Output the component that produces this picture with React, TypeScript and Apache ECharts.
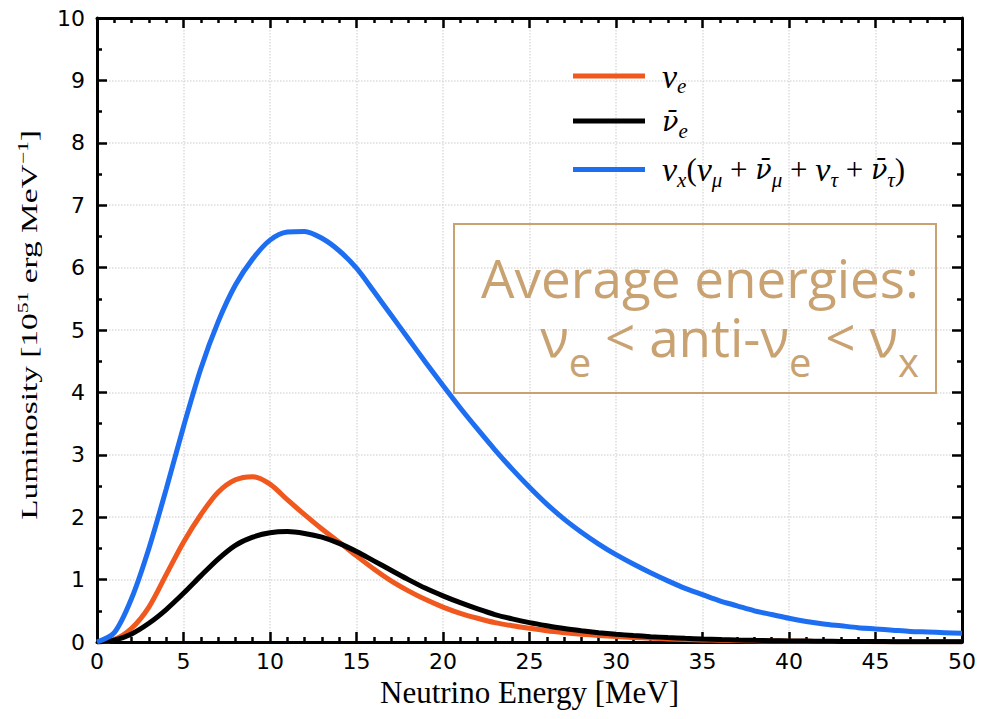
import { useEffect, useRef } from 'react';
import * as echarts from 'echarts';

// Neutrino energy [MeV]
const energies = [
  0, 1, 2, 3, 4, 5, 6, 7, 8, 9, 10, 11, 12, 13, 14, 15, 16, 17, 18, 19, 20,
  21, 22, 23, 24, 25, 26, 27, 28, 29, 30, 31, 32, 33, 34, 35, 36, 37, 38, 39, 40,
  41, 42, 43, 44, 45, 46, 47, 48, 49, 50,
];

// Luminosity [1e51 erg/MeV]
const nuE = [
  0, 0.04, 0.22, 0.56, 1.08, 1.6, 2.04, 2.4, 2.6, 2.65, 2.53, 2.28, 2.04, 1.81, 1.6, 1.38, 1.17, 0.98, 0.82, 0.68, 0.56,
  0.46, 0.38, 0.31, 0.26, 0.22, 0.18, 0.15, 0.125, 0.105, 0.088, 0.073, 0.06, 0.05, 0.041, 0.034, 0.028, 0.023, 0.019, 0.016, 0.013,
  0.011, 0.009, 0.008, 0.007, 0.006, 0.005, 0.004, 0.004, 0.003, 0.003,
];
const antiNuE = [
  0, 0.03, 0.13, 0.3, 0.52, 0.78, 1.06, 1.33, 1.55, 1.68, 1.75, 1.77, 1.74, 1.68, 1.58, 1.45, 1.3, 1.15, 1.0, 0.86, 0.74,
  0.63, 0.53, 0.44, 0.37, 0.31, 0.26, 0.215, 0.18, 0.15, 0.125, 0.104, 0.086, 0.071, 0.059, 0.049, 0.04, 0.033, 0.027, 0.022, 0.018,
  0.015, 0.012, 0.01, 0.008, 0.007, 0.006, 0.005, 0.004, 0.004, 0.003,
];
const nuX = [
  0, 0.15, 0.7, 1.5, 2.45, 3.45, 4.38, 5.13, 5.72, 6.14, 6.44, 6.57, 6.58, 6.47, 6.27, 5.99, 5.62, 5.24, 4.86, 4.48, 4.11,
  3.75, 3.41, 3.08, 2.77, 2.48, 2.21, 1.97, 1.76, 1.57, 1.4, 1.25, 1.11, 0.98, 0.86, 0.76, 0.66, 0.58, 0.5, 0.44, 0.38,
  0.33, 0.29, 0.26, 0.23, 0.21, 0.19, 0.17, 0.16, 0.15, 0.14,
];

const seriesNames = ['nu_e', 'anti_nu_e', 'nu_x'];
const seriesColors = ['#f0581e', '#000000', '#1e6ef2'];
const seriesValues = [nuE, antiNuE, nuX];
const legendLabels = [
  '{m|ν}{s|e}',
  '{b|ν̄}{s|e}',
  '{m|ν}{s|x}{p|(}{m|ν}{s|μ}{p| + }{b|ν̄}{s|μ}{p| + }{m|ν}{s|τ}{p| + }{b|ν̄}{s|τ}{p|)}',
];

const xTitle = 'Neutrino Energy [MeV]';
const yTitle = 'Luminosity [10{sup|51} erg MeV{sup|−1}]';
const noteLine1 = 'Average energies:';
const noteLine2 = '{n|ν}{s|e}{n| < anti-ν}{s|e}{n| < ν}{s|x}';

const NOTE_COLOR = '#c9a272';

export default function App() {
  const ref = useRef<HTMLDivElement>(null);

  useEffect(() => {
    const chart = echarts.init(ref.current!, null, { renderer: 'svg' });

    const tickCommon = {
      axisLine: { show: true, onZero: false, lineStyle: { color: '#000', width: 3 } },
      axisTick: { show: true, inside: true, length: 10, lineStyle: { color: '#000', width: 2.5 } },
      minorTick: { show: true, length: 5, lineStyle: { color: '#000', width: 2.5 } },
    };
    const labelCommon = {
      color: '#000',
      fontFamily: 'DejaVu Sans',
      fontSize: 22,
    };
    const gridLine = { show: true, lineStyle: { color: '#dcdcdc', type: 'dotted', width: 1.5 } };

    chart.setOption({
      animation: false,
      backgroundColor: '#ffffff',
      grid: { left: 97, right: 28, top: 18, bottom: 77, containLabel: false },
      xAxis: [
        {
          type: 'value', min: 0, max: 50, interval: 5, position: 'bottom',
          ...tickCommon,
          minorTick: { ...tickCommon.minorTick, splitNumber: 5 },
          axisLabel: { ...labelCommon, margin: 8 },
          splitLine: gridLine,
          name: xTitle, nameLocation: 'middle', nameGap: 34,
          nameTextStyle: { fontFamily: 'Liberation Serif', fontSize: 31, color: '#000' },
        },
        {
          type: 'value', min: 0, max: 50, interval: 5, position: 'top',
          ...tickCommon,
          minorTick: { ...tickCommon.minorTick, splitNumber: 5 },
          axisLabel: { show: false },
          splitLine: { show: false },
        },
      ],
      yAxis: [
        {
          type: 'value', min: 0, max: 10, interval: 1, position: 'left',
          ...tickCommon,
          minorTick: { ...tickCommon.minorTick, splitNumber: 2 },
          axisLabel: { ...labelCommon, margin: 12 },
          splitLine: gridLine,
        },
        {
          type: 'value', min: 0, max: 10, interval: 1, position: 'right',
          ...tickCommon,
          minorTick: { ...tickCommon.minorTick, splitNumber: 2 },
          axisLabel: { show: false },
          splitLine: { show: false },
        },
      ],
      legend: {
        orient: 'vertical',
        left: 568,
        top: 54,
        icon: 'rect',
        itemWidth: 72,
        itemHeight: 5,
        itemGap: 11,
        selectedMode: false,
        data: seriesNames,
        formatter: (name: string) => legendLabels[seriesNames.indexOf(name)],
        textStyle: {
          padding: [0, 0, 0, 12],
          color: '#000',
          rich: {
            m: { fontFamily: 'Liberation Serif', fontStyle: 'italic', fontSize: 34, color: '#000' },
            b: { fontFamily: 'DejaVu Serif', fontStyle: 'italic', fontSize: 27, color: '#000' },
            p: { fontFamily: 'Liberation Serif', fontSize: 31, color: '#000' },
            s: { fontFamily: 'Liberation Serif', fontStyle: 'italic', fontSize: 21, color: '#000', padding: [20, 0, 0, 0] },
          },
        },
      },
      series: seriesNames.map((name, k) => ({
        name,
        type: 'line',
        xAxisIndex: 0,
        yAxisIndex: 0,
        showSymbol: false,
        symbol: 'none',
        smooth: 0.3,
        data: energies.map((x, i) => [x, seriesValues[k][i]]),
        lineStyle: { color: seriesColors[k], width: 5 },
        itemStyle: { color: seriesColors[k] },
        z: 3 + k,
      })),
      graphic: [
        {
          type: 'text',
          x: 29,
          y: 325,
          rotation: Math.PI / 2,
          scaleX: 1.45,
          style: {
            text: yTitle,
            fill: '#000',
            fontFamily: 'Liberation Serif',
            fontSize: 23,
            align: 'center',
            verticalAlign: 'middle',
            rich: {
              sup: { fontFamily: 'Liberation Serif', fontSize: 15, fill: '#000', padding: [0, 0, 12, 0] },
            },
          },
        },
        {
          type: 'rect',
          shape: { x: 454, y: 224, width: 482, height: 169 },
          style: { fill: 'none', stroke: NOTE_COLOR, lineWidth: 2 },
          z: 10,
        },
        {
          type: 'text',
          x: 919,
          y: 277,
          style: {
            text: noteLine1,
            fill: NOTE_COLOR,
            fontFamily: 'Open Sans',
            fontSize: 53,
            lineHeight: 58,
            align: 'right',
            verticalAlign: 'middle',
          },
          z: 10,
        },
        {
          type: 'text',
          x: 919,
          y: 310,
          style: {
            text: noteLine2,
            fill: NOTE_COLOR,
            fontFamily: 'Open Sans',
            fontSize: 53,
            align: 'right',
            verticalAlign: 'top',
            rich: {
              n: { fontFamily: 'Open Sans', fontSize: 53, fill: NOTE_COLOR, verticalAlign: 'top' },
              s: { fontFamily: 'Open Sans', fontSize: 40, fill: NOTE_COLOR, verticalAlign: 'top', padding: [31, 0, 0, 0] },
            },
          },
          z: 10,
        },
      ],
    });

    return () => chart.dispose();
  }, []);

  return (
    <div
      ref={ref}
      style={{ position: 'absolute', left: 0, top: 0, width: 990, height: 719 }}
    />
  );
}
